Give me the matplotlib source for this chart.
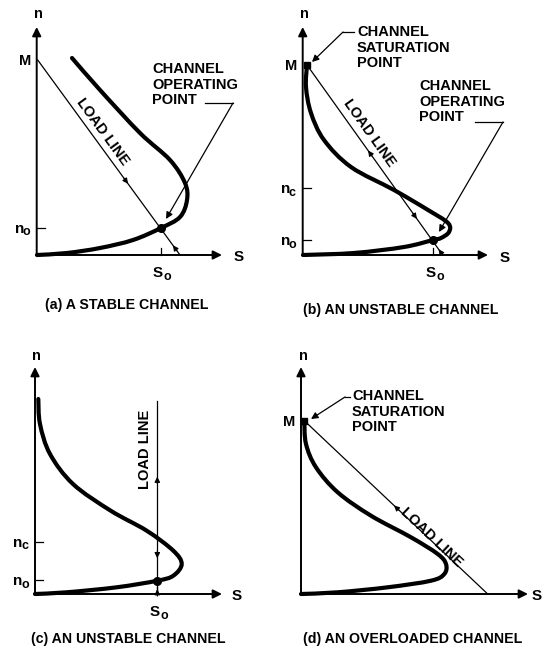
import numpy as np
import matplotlib
matplotlib.use('Agg')
import matplotlib.pyplot as plt
from matplotlib.path import Path
from matplotlib.patches import PathPatch

W, H = 542, 648
FONT = 'Liberation Sans'

# ---------------- data (figure pixel coordinates, y downward) ----------------
captions = ["(a) A STABLE CHANNEL", "(b) AN UNSTABLE CHANNEL",
            "(c) AN UNSTABLE CHANNEL", "(d) AN OVERLOADED CHANNEL"]
caption_xy = [(127, 305), (401, 310), (128, 639), (413, 639)]

origins = [(36.7, 255), (302.7, 255), (35, 594), (301, 594)]
y_tops = [27, 27, 367, 367]
x_rights = [222, 488, 222, 528]
n_label_xy = [(38, 14), (304, 14), (36, 356), (303, 356)]
s_label_xy = [(234, 257), (500, 258), (232, 596), (532, 596)]

curve_a_x = [72, 100, 140, 170, 185, 187, 180, 161, 133, 100, 67, 37]
curve_a_y = [58, 90, 133, 160, 183, 200, 217, 228, 240, 248, 253, 255]
curve_b_x = [307, 306, 311, 324, 351, 394, 428, 448, 449, 441, 433, 404, 354, 303]
curve_b_y = [65, 87, 113, 140, 167, 190, 210, 223, 232, 238, 240, 247, 253, 255]
curve_c_x = [38.3, 40, 50, 73, 110.7, 146.7, 173.3, 181.7, 173.3, 157.3, 116.7, 66.7, 35]
curve_c_y = [399, 424, 454, 484, 510.7, 530.7, 550.7, 564, 575.7, 580.7, 587.3, 592.3, 594]
curve_d_x = [304.3, 306, 316, 337.7, 371, 411, 437.7, 446, 444.3, 431, 387.7, 337.7, 301]
curve_d_y = [420.7, 444, 467.3, 492.3, 515.7, 537.3, 554, 564, 574, 580.7, 587.3, 592.3, 594]
curves = [(curve_a_x, curve_a_y), (curve_b_x, curve_b_y),
          (curve_c_x, curve_c_y), (curve_d_x, curve_d_y)]

load_lines = [((37.7, 60), (180, 255)), ((307, 65), (442.7, 255)),
              ((157.3, 400.7), (157.3, 594)), ((304.3, 420.7), (487.7, 594))]
# (fraction along load line, direction +1 = toward end, -1 = toward start)
load_arrows = [[(0.635, 1), (0.95, -1)],
               [(0.45, -1), (0.81, 1), (0.97, -1)],
               [(0.393, -1), (0.815, 1), (0.975, -1)],
               [(0.489, -1)]]
load_text_xy = [(103, 132), (369, 133), (145, 449), (432, 537)]
load_text_rot = [-53.9, -54.5, 90, -43.4]

operating_points = [(161, 228), (433.3, 240), (157.3, 580.7)]
saturation_points = [(307, 65), (304.3, 420.7)]

# y-axis labels: (panel, y, main, sub)
y_labels = [(0, 60, 'M', ''), (0, 227.7, 'n', 'o'),
            (1, 65, 'M', ''), (1, 188.3, 'n', 'c'), (1, 240, 'n', 'o'),
            (2, 541.7, 'n', 'c'), (2, 580, 'n', 'o'),
            (3, 420.7, 'M', '')]
y_ticks = [(0, 227.7), (1, 188.3), (1, 240), (2, 541.7), (2, 580)]
s_ticks = [(0, 161), (1, 433.3), (2, 157.3)]

notes = [("CHANNEL\nOPERATING\nPOINT", (152, 62), [(205, 103), (233, 103), (166, 219)]),
         ("CHANNEL\nSATURATION\nPOINT", (357, 25), [(354, 32), (343, 32), (312, 62)]),
         ("CHANNEL\nOPERATING\nPOINT", (419, 79), [(475, 122), (503, 122), (439, 232)]),
         ("CHANNEL\nSATURATION\nPOINT", (352, 389), [(350, 397), (345, 397), (311, 419)])]

# ---------------- drawing ----------------
fig = plt.figure(figsize=(W / 100, H / 100), dpi=100)
ax = fig.add_axes([0, 0, 1, 1])
ax.set_xlim(0, W)
ax.set_ylim(H, 0)
ax.axis('off')

FS = 10.5
txt = dict(family=FONT, fontweight='bold', color='black')


def smooth_path(xs, ys):
    p = np.column_stack([xs, ys]).astype(float)
    verts = [p[0]]
    codes = [Path.MOVETO]
    n = len(p)
    for i in range(n - 1):
        p0 = p[i - 1] if i > 0 else p[i]
        p1, p2 = p[i], p[i + 1]
        p3 = p[i + 2] if i + 2 < n else p[i + 1]
        c1 = p1 + (p2 - p0) / 6.0
        c2 = p2 - (p3 - p1) / 6.0
        verts += [c1, c2, p2]
        codes += [Path.CURVE4] * 3
    return Path(verts, codes)


def arrow(p_from, p_to, lw=1.0, ms=10):
    ax.annotate('', xy=p_to, xytext=p_from,
                arrowprops=dict(arrowstyle='-|>', lw=lw, color='black',
                                mutation_scale=ms, shrinkA=0, shrinkB=0))


for k in range(4):
    ox, oy = origins[k]
    # axes with arrow heads
    arrow((ox, oy + 0.5), (ox, y_tops[k]), lw=1.4, ms=13)
    arrow((ox - 0.5, oy), (x_rights[k], oy), lw=1.4, ms=13)
    ax.text(*n_label_xy[k], 'n', fontsize=FS, ha='center', va='center', **txt)
    ax.text(*s_label_xy[k], 'S', fontsize=FS + 0.5, ha='left', va='center', **txt)
    # curve
    cx, cy = curves[k]
    ax.add_patch(PathPatch(smooth_path(cx, cy), fill=False, lw=3.0,
                           color='black', capstyle='round', joinstyle='round'))
    # load line
    (x0, y0), (x1, y1) = load_lines[k]
    ax.plot([x0, x1], [y0, y1], color='black', lw=0.9)
    d = np.array([x1 - x0, y1 - y0])
    u = d / np.hypot(*d)
    for t, s in load_arrows[k]:
        tip = np.array([x0, y0]) + t * d
        arrow(tuple(tip - s * 7 * u), tuple(tip), lw=0.8, ms=8)
    ax.text(*load_text_xy[k], 'LOAD LINE', fontsize=FS, rotation=load_text_rot[k],
            rotation_mode='anchor', ha='center', va='center', **txt)
    ax.text(*caption_xy[k], captions[k], fontsize=FS - 0.3, ha='center', va='center', **txt)

for k, y, main, sub in y_labels:
    ox = origins[k][0]
    if sub:
        ax.text(ox - 22, y + 1, main, fontsize=FS + 0.5, ha='left', va='center', **txt)
        ax.text(ox - 14, y + 4.5, sub, fontsize=FS - 1.5, ha='left', va='center', **txt)
    else:
        ax.text(ox - 12, y + 1, main, fontsize=FS, ha='center', va='center', **txt)

for k, y in y_ticks:
    ox = origins[k][0]
    ax.plot([ox, ox + 8], [y, y], color='black', lw=0.9)

for k, x in s_ticks:
    oy = origins[k][1]
    ax.plot([x, x], [oy, oy - 7], color='black', lw=0.9)
    ax.text(x - 3, oy + 18, 'S', fontsize=FS + 0.5, ha='center', va='center', **txt)
    ax.text(x + 3, oy + 22, 'o', fontsize=FS - 1.5, ha='left', va='center', **txt)

for x, y in operating_points:
    ax.plot([x], [y], 'o', color='black', ms=5.5)
for x, y in saturation_points:
    ax.plot([x], [y], 's', color='black', ms=5)

for text, (tx, ty), pts in notes:
    ax.text(tx, ty, text, fontsize=FS, ha='left', va='top', linespacing=1.15, **txt)
    xs = [p[0] for p in pts[:-1]]
    ys = [p[1] for p in pts[:-1]]
    ax.plot(xs, ys, color='black', lw=0.9)
    arrow(pts[-2], pts[-1], lw=0.9, ms=10)

fig.savefig('out.png', dpi=100)
